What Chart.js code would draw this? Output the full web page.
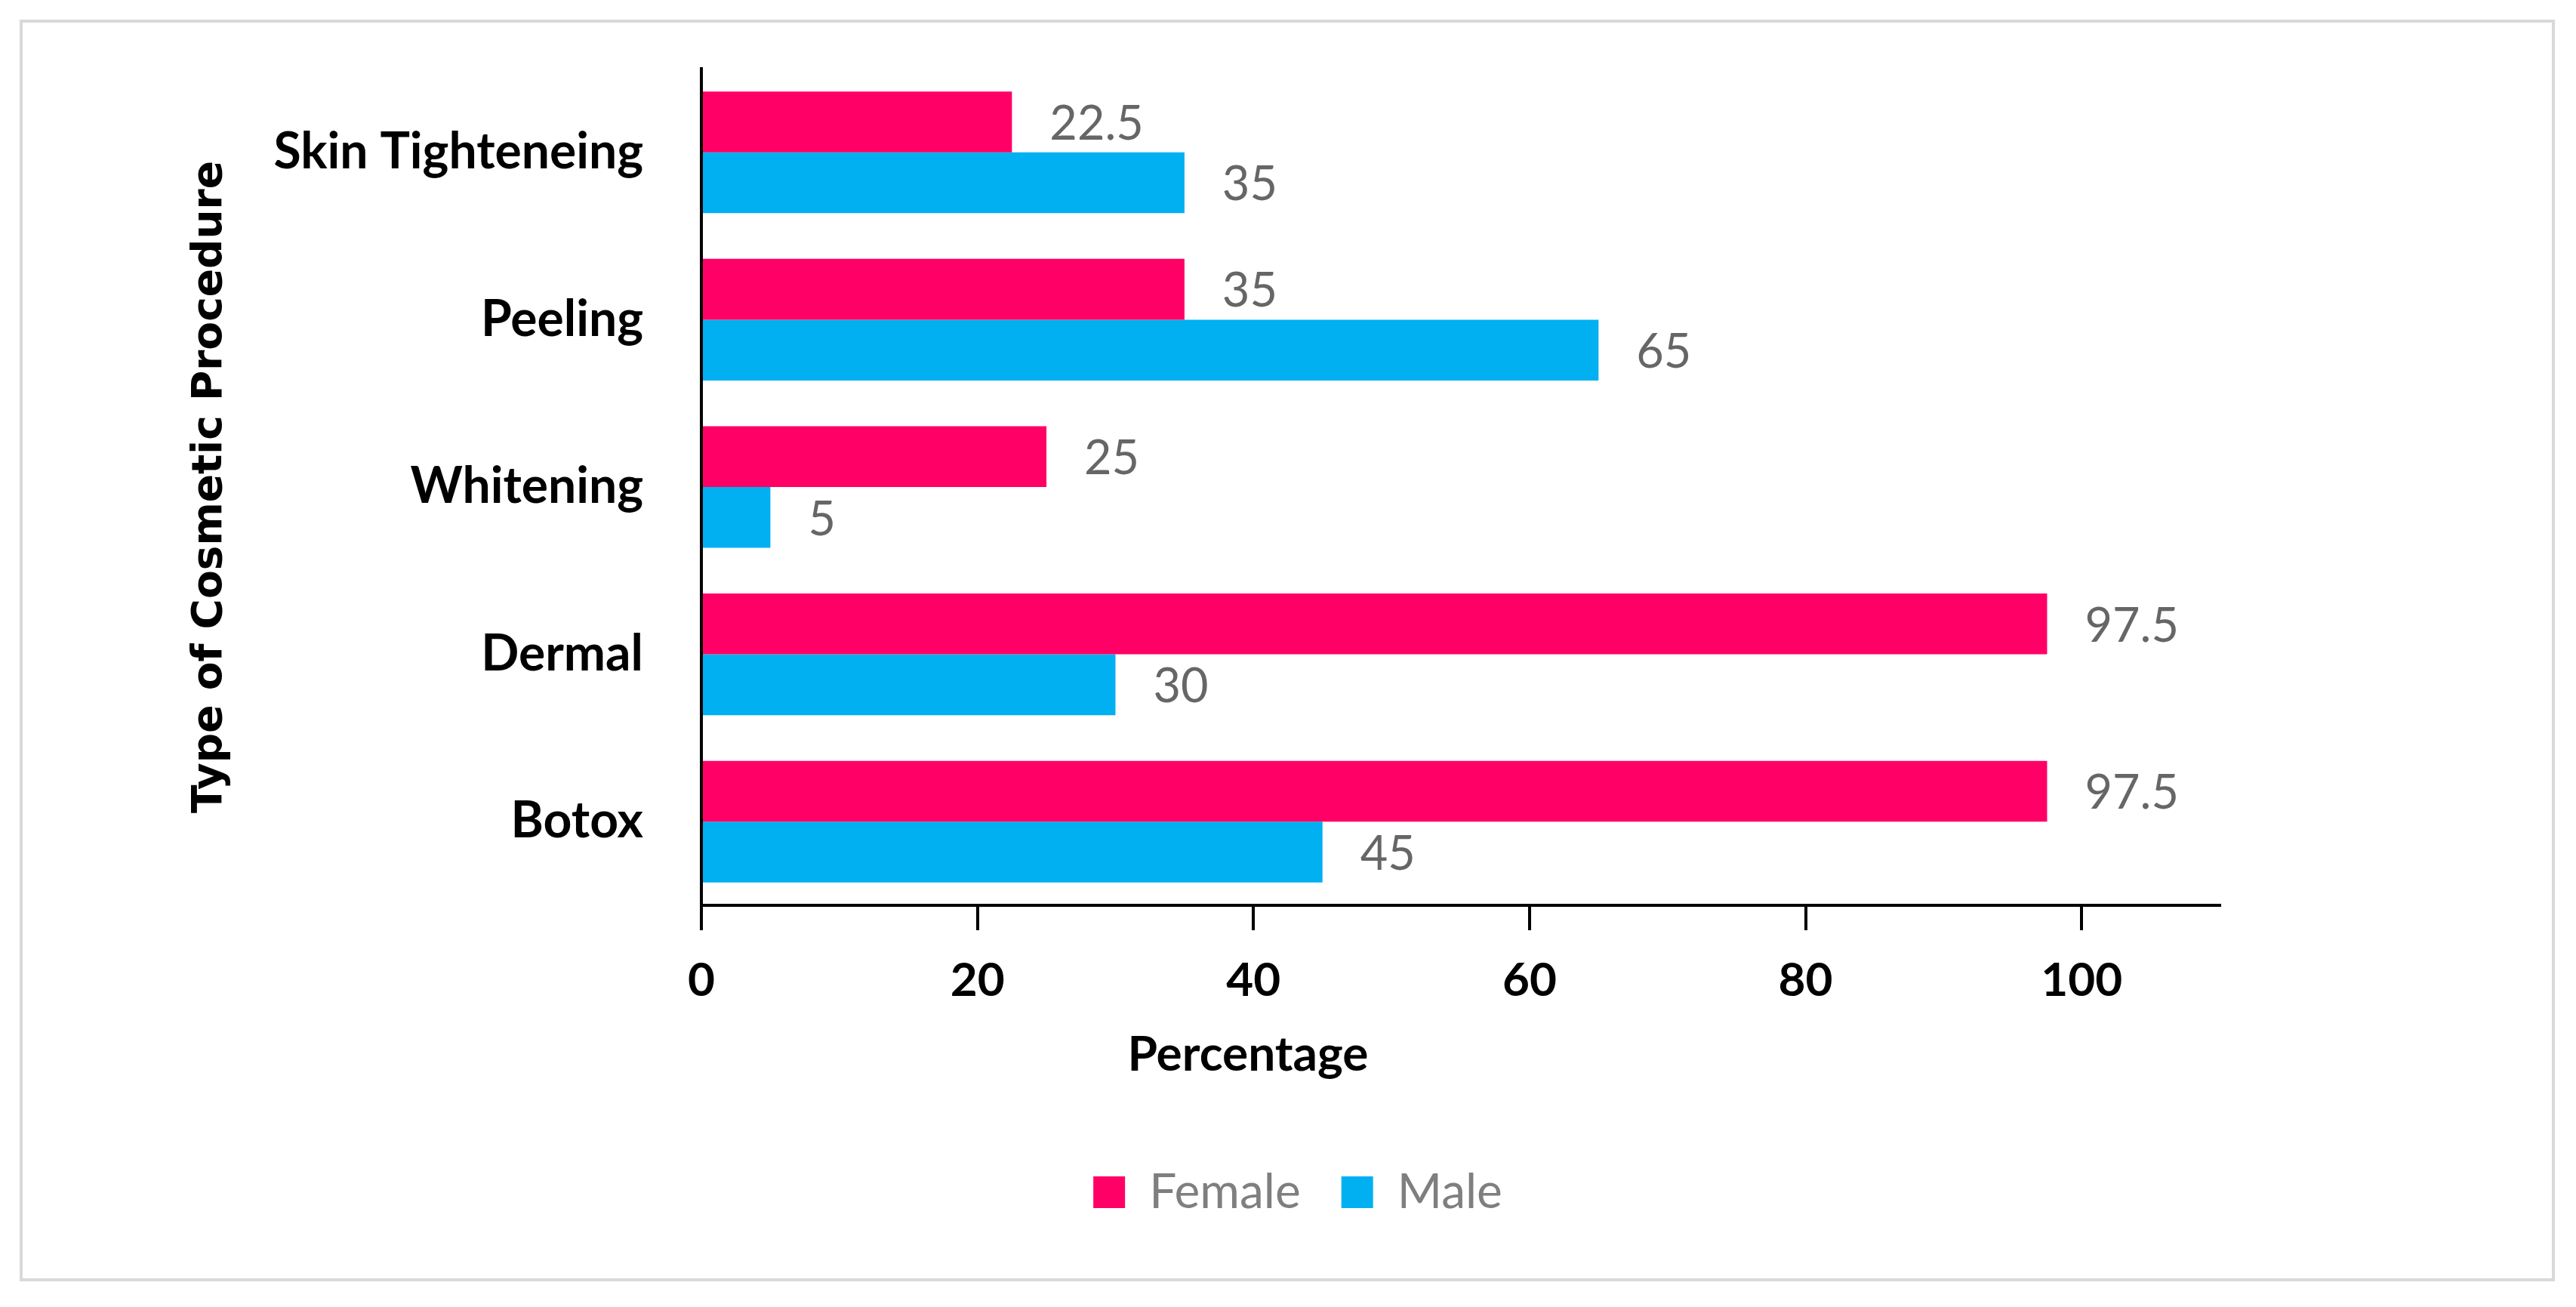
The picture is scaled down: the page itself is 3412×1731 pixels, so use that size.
<!DOCTYPE html>
<html>
<head>
<meta charset="utf-8">
<script src="https://cdn.jsdelivr.net/npm/chart.js@4.4.1/dist/chart.umd.min.js"></script>
<style>
  html, body { margin: 0; padding: 0; background: #fff; }
  #frame {
    position: absolute; left: 26px; top: 26px;
    width: 3358px; height: 1671px;
    border: 4px solid #d9d9d9; box-sizing: border-box;
  }
</style>
</head>
<body>
<div id="frame"><canvas id="procChart"></canvas></div>
<script>
/* global Chart */
const procedures = ['Skin Tighteneing', 'Peeling', 'Whitening', 'Dermal', 'Botox']
const femaleValues = [22.5, 35, 25, 97.5, 97.5]
const maleValues = [35, 65, 5, 30, 45]
const xTickValues = [0, 20, 40, 60, 80, 100]

// value labels to the right of each bar
const barValueLabels = {
  id: 'barValueLabels',
  afterDatasetsDraw (chart) {
    const ctx = chart.ctx
    ctx.save()
    ctx.font = '63px Lato'
    ctx.fillStyle = '#666666'
    ctx.textBaseline = 'middle'
    ctx.textAlign = 'left'
    chart.data.datasets.forEach((ds, i) => {
      chart.getDatasetMeta(i).data.forEach((bar, j) => {
        ctx.fillText(String(ds.data[j]), bar.x + 50, bar.y + 3)
      })
    })
    ctx.restore()
  }
}

// x axis title sits left of centre in the original
const xAxisTitle = {
  id: 'xAxisTitle',
  afterDraw (chart) {
    const { ctx, chartArea } = chart
    ctx.save()
    ctx.font = 'bold 64px Lato'
    ctx.fillStyle = '#000'
    ctx.textAlign = 'center'
    ctx.textBaseline = 'middle'
    ctx.fillText('Percentage', chartArea.left + (chartArea.right - chartArea.left) * 0.36, chartArea.bottom + 198)
    ctx.restore()
  }
}

// legend is centred a bit right of the canvas centre
const legendShift = {
  id: 'legendShift',
  afterLayout (chart) {
    if (chart.legend) {
      chart.legend.left += 468
      chart.legend.width -= 468
    }
  }
}

window.addEventListener('load', function () {
  const ctx = document.getElementById('procChart').getContext('2d')
  // eslint-disable-next-line no-unused-vars
  const procChart = new Chart(ctx, {
    type: 'bar',
    data: {
      labels: procedures,
      datasets: [
        { label: 'Female', data: femaleValues, backgroundColor: '#ff0066', borderWidth: 0 },
        { label: 'Male', data: maleValues, backgroundColor: '#00b0f0', borderWidth: 0 }
      ]
    },
    plugins: [barValueLabels, xAxisTitle, legendShift],
    options: {
      indexAxis: 'y',
      responsive: true,
      maintainAspectRatio: false,
      animation: false,
      datasets: { bar: { categoryPercentage: 0.727, barPercentage: 1 } },
      layout: { padding: { left: 0, right: 440, top: 61, bottom: 72 } },
      plugins: {
        tooltip: { enabled: false },
        legend: {
          position: 'bottom',
          labels: {
            boxWidth: 42,
            boxHeight: 42,
            padding: 54,
            color: '#7f7f7f',
            font: { family: 'Lato', size: 64 }
          }
        }
      },
      scales: {
        x: {
          min: 0,
          max: 110,
          afterBuildTicks: (scale) => { scale.ticks = xTickValues.map(v => ({ value: v })) },
          afterFit: (scale) => { scale.height = 294 },
          grid: { drawOnChartArea: false, drawTicks: true, tickLength: 33, color: '#000', lineWidth: 4 },
          border: { color: '#000', width: 4 },
          ticks: { color: '#000', padding: 30, font: { family: 'Lato', weight: 'bold', size: 62 } }
        },
        y: {
          afterFit: (scale) => {
            scale.width = 899
            scale.paddingTop = 0
            scale.paddingBottom = 0
          },
          grid: { display: false },
          border: { color: '#000', width: 4 },
          ticks: { color: '#000', padding: 69, font: { family: 'Lato', weight: 'bold', size: 66 } },
          title: {
            display: true,
            text: 'Type of Cosmetic Procedure',
            color: '#000',
            padding: { top: 216, bottom: 0 },
            font: { family: 'DejaVu Sans', weight: 'bold', size: 55 }
          }
        }
      }
    }
  })
})
</script>
</body>
</html>
